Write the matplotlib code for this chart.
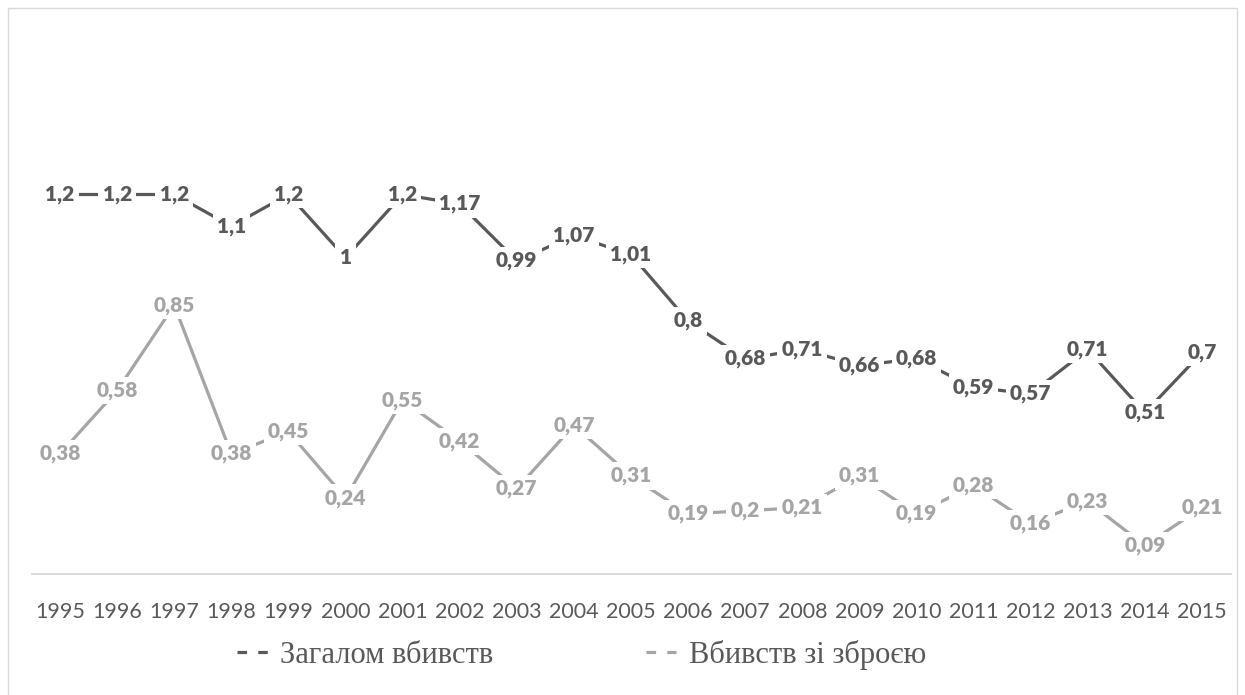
import matplotlib.pyplot as plt
from matplotlib.patches import Rectangle

years = [str(y) for y in range(1995, 2016)]
total = [1.2, 1.2, 1.2, 1.1, 1.2, 1.0, 1.2, 1.17, 0.99, 1.07, 1.01, 0.8, 0.68,
         0.71, 0.66, 0.68, 0.59, 0.57, 0.71, 0.51, 0.7]
guns = [0.38, 0.58, 0.85, 0.38, 0.45, 0.24, 0.55, 0.42, 0.27, 0.47, 0.31, 0.19,
        0.2, 0.21, 0.31, 0.19, 0.28, 0.16, 0.23, 0.09, 0.21]
names = ['Загалом вбивств', 'Вбивств зі зброєю']
colors = ['#595959', '#A5A5A5']


def fmt(v):
    s = ('%.2f' % v).rstrip('0').rstrip('.')
    return s.replace('.', ',')


fig = plt.figure(figsize=(12.45, 6.95), dpi=100)
# outer chart border
fig.patches.append(Rectangle((8 / 1245, -0.01), 1229 / 1245, 1 - 8 / 695 + 0.01,
                             transform=fig.transFigure, fill=False,
                             edgecolor='#D9D9D9', lw=1))

ax = fig.add_axes([31.5 / 1245, 1 - 574 / 695, 1199 / 1245, 506 / 695])
x = list(range(len(years)))

lines = []
for vals, col, nm in zip([total, guns], colors, names):
    # dashed copy only used for the legend handle
    ln, = ax.plot([], [], color=col, lw=2.3, linestyle=(0, (3, 3.5)),
                  dash_capstyle='butt', label=nm)
    ax.plot(x, vals, color=col, lw=2.3, solid_capstyle='butt', zorder=2)
    lines.append(ln)
    for xi, v in zip(x, vals):
        ax.text(xi, v, fmt(v), ha='center', va='center', color=col,
                fontsize=15, fontweight='heavy', family='Lato', zorder=3,
                bbox=dict(boxstyle='square,pad=0.2', fc='white', ec='none'))

ax.set_xlim(-0.5, len(years) - 0.5)
ax.set_ylim(0, 1.6)
ax.set_xticks(x)
ax.set_xticklabels(years, family='Lato', fontsize=15.5, color='#595959')
ax.tick_params(axis='x', length=0, pad=20)
ax.set_yticks([])
for s in ['top', 'right', 'left']:
    ax.spines[s].set_visible(False)
ax.spines['bottom'].set_color('#D9D9D9')
ax.spines['bottom'].set_linewidth(1.3)

fig.legend(handles=lines, labels=names, loc='center', ncol=2,
           bbox_to_anchor=(0.467, 1 - 655 / 695), frameon=False,
           prop={'family': 'Liberation Serif', 'size': 22},
           labelcolor='#595959', handlelength=1.0, handletextpad=0.4,
           columnspacing=5.0)

fig.savefig('out.png', dpi=100)
